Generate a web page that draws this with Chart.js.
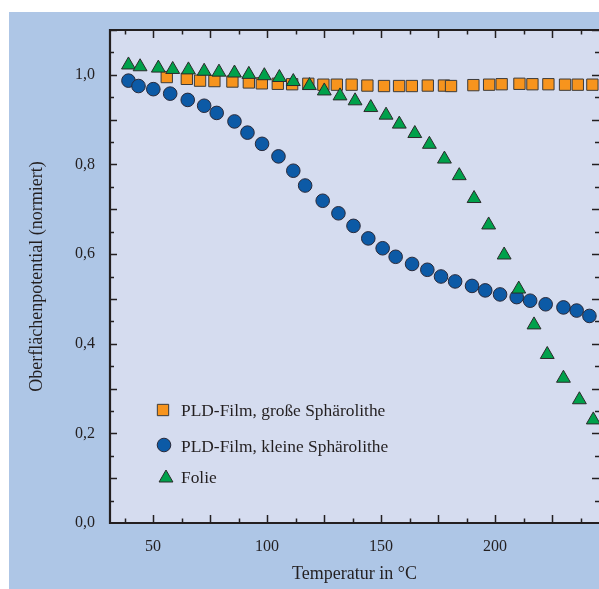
<!DOCTYPE html>
<html>
<head>
<meta charset="utf-8">
<script src="https://cdn.jsdelivr.net/npm/chart.js@4.4.1/dist/chart.umd.min.js"></script>
<style>
  html, body { margin: 0; padding: 0; background: #ffffff; overflow: hidden; }
  #wrap { position: relative; width: 599px; height: 589px; }
</style>
</head>
<body>
<div id="wrap"><canvas id="c" width="599" height="589"></canvas></div>
<script>
// ---- data ----
const seriesNames = ["PLD-Film, große Sphärolithe", "PLD-Film, kleine Sphärolithe", "Folie"];

const grossT = [56.0, 64.8, 70.6, 76.9, 84.8, 92.0, 97.7, 104.7, 111.0, 118.1, 124.7, 130.6, 137.1, 144.0, 151.3, 157.9, 163.5, 170.5, 177.6, 180.7, 190.5, 197.4, 202.9, 210.7, 216.4, 223.4, 230.7, 236.3, 242.7];
const grossV = [0.995, 0.991, 0.987, 0.986, 0.985, 0.983, 0.981, 0.980, 0.979, 0.980, 0.978, 0.978, 0.978, 0.976, 0.975, 0.975, 0.975, 0.976, 0.976, 0.975, 0.977, 0.978, 0.979, 0.980, 0.979, 0.979, 0.978, 0.978, 0.978];

const kleinT = [39.2, 43.6, 50.1, 57.5, 65.2, 72.4, 77.9, 85.7, 91.4, 97.8, 105.0, 111.5, 116.7, 124.4, 131.3, 137.9, 144.4, 150.7, 156.4, 163.6, 170.3, 176.3, 182.5, 189.9, 195.7, 202.2, 209.5, 215.4, 222.2, 230.0, 235.8, 241.4];
const kleinV = [0.987, 0.975, 0.968, 0.958, 0.944, 0.931, 0.915, 0.896, 0.871, 0.846, 0.818, 0.786, 0.753, 0.719, 0.691, 0.663, 0.635, 0.613, 0.594, 0.578, 0.565, 0.550, 0.539, 0.529, 0.519, 0.510, 0.504, 0.496, 0.488, 0.481, 0.474, 0.462];

const folieT = [39.2, 44.3, 52.3, 58.6, 65.5, 72.4, 78.9, 85.7, 92.0, 98.8, 105.4, 111.5, 118.6, 125.1, 132.0, 138.6, 145.5, 152.2, 158.0, 164.8, 171.2, 177.8, 184.3, 190.8, 197.2, 204.0, 210.4, 217.1, 222.9, 230.0, 237.0, 243.1];
const folieV = [1.022, 1.018, 1.015, 1.012, 1.011, 1.008, 1.006, 1.004, 1.001, 0.998, 0.994, 0.985, 0.976, 0.964, 0.953, 0.942, 0.927, 0.910, 0.890, 0.869, 0.845, 0.812, 0.775, 0.724, 0.665, 0.598, 0.522, 0.442, 0.376, 0.323, 0.275, 0.230];

const xMin = 31.1, xMax = 245.6;
const yMin = 0, yMax = 1.1;
const xLabelStep = 50, xMajorStep = 25, xMinorStep = 12.5;
const yLabelStep = 0.2, yMajorStep = 0.1, yMinorStep = 0.05;

// ---- styles ----
const INK = '#231f20';
const OUTER_BG = '#aec6e6';
const PLOT_BG = '#d5dcef';
const FONT = '"Liberation Serif", "Times New Roman", serif';
Chart.defaults.font.family = FONT;
Chart.defaults.color = INK;

function pts(xs, ys) { return xs.map((x, i) => ({ x: x, y: ys[i] })); }

const datasets = [
  { label: seriesNames[0], data: pts(grossT, grossV), pointStyle: 'rect', pointRadius: 8,
    backgroundColor: '#f7941d', borderColor: '#3b3b3b', borderWidth: 1, showLine: false, order: 3 },
  { label: seriesNames[1], data: pts(kleinT, kleinV), pointStyle: 'circle', pointRadius: 6.8,
    backgroundColor: '#0c5aa6', borderColor: '#2a2a3a', borderWidth: 1, showLine: false, order: 2 },
  { label: seriesNames[2], data: pts(folieT, folieV), pointStyle: 'triangle', pointRadius: 8,
    backgroundColor: '#00a14b', borderColor: '#2b2b2b', borderWidth: 1, showLine: false, order: 1 }
];
datasets.forEach(d => { d.pointHoverRadius = d.pointRadius; d.pointBorderWidth = 1; });

function fmt(v) { return v.toFixed(1).replace('.', ','); }
function isMult(v, step) { const r = v / step; return Math.abs(r - Math.round(r)) < 1e-6; }

const bgPlugin = {
  id: 'bg',
  beforeDraw(chart) {
    const { ctx, chartArea: a } = chart;
    ctx.save();
    ctx.fillStyle = '#ffffff';
    ctx.fillRect(0, 0, chart.width, chart.height);
    ctx.fillStyle = OUTER_BG;
    ctx.fillRect(9, 12, chart.width - 9, chart.height - 12);
    ctx.fillStyle = PLOT_BG;
    ctx.fillRect(a.left, a.top, a.right - a.left, a.bottom - a.top);
    ctx.restore();
  }
};

const framePlugin = {
  id: 'frame',
  afterDraw(chart) {
    const { ctx, chartArea: a, scales } = chart;
    const xs = scales.x, ys = scales.y;
    ctx.save();
    ctx.strokeStyle = INK;
    ctx.lineWidth = 1.5;
    ctx.beginPath();
    for (let v = Math.ceil(xMin / xMinorStep) * xMinorStep; v <= xMax + 1e-9; v += xMinorStep) {
      const px = Math.round(xs.getPixelForValue(v)) + 0.5;
      const len = isMult(v, xMajorStep) ? 8 : 4.5;
      ctx.moveTo(px, a.bottom); ctx.lineTo(px, a.bottom - len);
      ctx.moveTo(px, a.top); ctx.lineTo(px, a.top + len);
    }
    for (let v = yMinorStep; v <= yMax + 1e-9; v += yMinorStep) {
      const py = Math.round(ys.getPixelForValue(v)) + 0.5;
      const len = isMult(v, yMajorStep) ? 7 : 4;
      ctx.moveTo(a.left, py); ctx.lineTo(a.left + len, py);
      ctx.moveTo(a.right, py); ctx.lineTo(a.right - len, py);
    }
    ctx.stroke();
    ctx.lineWidth = 2.2;
    ctx.beginPath();
    ctx.moveTo(a.right + 2, a.top); ctx.lineTo(a.left, a.top);
    ctx.lineTo(a.left, a.bottom); ctx.lineTo(a.right + 2, a.bottom);
    ctx.stroke();
    ctx.restore();
  }
};

const legendPlugin = {
  id: 'insideLegend',
  afterDatasetsDraw(chart) {
    const { ctx } = chart;
    const rows = [
      { ds: 0, mx: 163, my: 410, ty: 411 },
      { ds: 1, mx: 164, my: 445, ty: 447 },
      { ds: 2, mx: 166, my: 478, ty: 478 }
    ];
    ctx.save();
    rows.forEach(r => {
      const d = chart.data.datasets[r.ds];
      ctx.fillStyle = d.backgroundColor;
      ctx.strokeStyle = d.borderColor;
      ctx.lineWidth = 1;
      Chart.helpers.drawPoint(ctx, { pointStyle: d.pointStyle, radius: d.pointRadius, rotation: 0, borderWidth: 1 }, r.mx, r.my);
      ctx.fillStyle = INK;
      ctx.font = '17.4px ' + FONT;
      ctx.textAlign = 'left';
      ctx.textBaseline = 'middle';
      ctx.fillText(d.label, 181, r.ty);
    });
    ctx.restore();
  }
};

new Chart(document.getElementById('c'), {
  type: 'scatter',
  data: { datasets: datasets },
  options: {
    responsive: false,
    animation: false,
    devicePixelRatio: 1,
    layout: { autoPadding: false, padding: { top: 30, left: 0, right: 0, bottom: 0 } },
    plugins: { legend: { display: false }, tooltip: { enabled: false } },
    scales: {
      x: {
        type: 'linear', min: xMin, max: xMax,
        grid: { display: false, drawTicks: false },
        border: { display: false },
        afterBuildTicks(scale) {
          const t = [];
          for (let v = Math.ceil(xMin / xLabelStep) * xLabelStep; v <= xMax; v += xLabelStep) t.push({ value: v });
          scale.ticks = t;
        },
        ticks: { padding: 14, font: { size: 16 }, color: INK, callback: v => String(v), autoSkip: false, maxRotation: 0 },
        title: { display: true, text: 'Temperatur in °C', font: { size: 18 }, color: INK, padding: { top: 0, bottom: 4 } },
        afterFit(scale) { scale.height = 66; scale.paddingLeft = 0; scale.paddingRight = 0; }
      },
      y: {
        type: 'linear', min: yMin, max: yMax,
        grid: { display: false, drawTicks: false },
        border: { display: false },
        afterBuildTicks(scale) {
          const t = [];
          for (let v = yMin; v <= yMax + 1e-9; v += yLabelStep) t.push({ value: Math.round(v * 10) / 10 });
          scale.ticks = t;
        },
        ticks: { padding: 15, font: { size: 16 }, color: INK, callback: v => fmt(v), autoSkip: false },
        title: { display: true, text: 'Oberflächenpotential (normiert)', font: { size: 18 }, color: INK, padding: { top: 26, bottom: 0 } },
        afterFit(scale) { scale.width = 110; scale.paddingTop = 0; scale.paddingBottom = 0; }
      }
    }
  },
  plugins: [bgPlugin, legendPlugin, framePlugin]
});
</script>
</body>
</html>
